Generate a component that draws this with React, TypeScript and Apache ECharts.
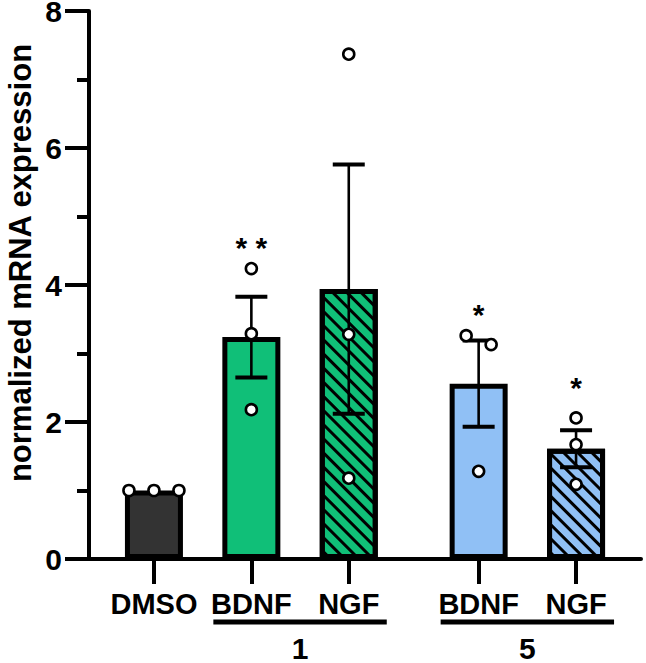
import React, { useEffect, useRef } from "react";
import * as echarts from "echarts";

// ---- data ----
const categories = ["DMSO", "BDNF", "NGF", "BDNF", "NGF"];
const groupLabels = ["", "1", "1", "5", "5"];
const means = [1.0, 3.24, 3.94, 2.56, 1.61];
const sems = [0, 0.59, 1.82, 0.63, 0.27];
const replicates = [
  [1.0, 1.0, 1.0],
  [4.24, 3.29, 2.18],
  [7.37, 3.28, 1.18],
  [3.26, 3.13, 1.28],
  [2.06, 1.67, 1.09],
];
const significance = ["", "* *", "", "*", "*"];
const significanceLevel = [null, 4.65, null, 3.67, 2.61];
const yTicks = { min: 0, max: 8, interval: 2 };
const yTitle = "normalized mRNA expression";

// ---- styles ----
const barColors = ["#333333", "#10bf78", "#10bf78", "#90c0f5", "#90c0f5"];
const barHatched = [false, false, true, false, true];
const FONT = "'Liberation Sans', Arial, sans-serif";

// layout: slot positions on a continuous x-axis (step 3, extra gap between compound groups)
const positions = categories.map((_, i) => {
  let extra = 0;
  for (let k = 1; k <= i; k++) if (groupLabels[k] !== groupLabels[k - 1] && groupLabels[k - 1] !== "") extra += 1;
  return 2 + 3 * i + extra;
});

export default function App() {
  const ref = useRef<HTMLDivElement>(null);
  useEffect(() => {
    const chart = echarts.init(ref.current!, null, { renderer: "svg" });

    const hatchDecal = {
      symbol: "rect",
      symbolSize: 1,
      color: "#000000",
      dashArrayX: [1, 0],
      dashArrayY: [2.6, 6.6],
      rotation: Math.PI / 4,
    };

    const barData = means.map((m, i) => ({
      value: [positions[i], m],
      itemStyle: {
        color: barColors[i],
        borderColor: "#000",
        borderWidth: 5,
        decal: barHatched[i] ? hatchDecal : undefined,
      },
    }));

    const errData = means.map((m, i) => [positions[i], m, sems[i]]);
    const ptData = means.map((m, i) => [positions[i], m, i]);
    const sigData = significance
      .map((s, i) => (s ? [positions[i], significanceLevel[i], i] : null))
      .filter((d) => d !== null);

    const groups: { label: string; start: number; end: number }[] = [];
    groupLabels.forEach((g, i) => {
      if (!g) return;
      const last = groups[groups.length - 1];
      if (last && last.label === g) last.end = positions[i];
      else groups.push({ label: g, start: positions[i], end: positions[i] });
    });
    const groupData = groups.map((g, i) => [g.start, 0, g.end, i]);

    const option: any = {
      animation: false,
      grid: { left: 89, right: 5, top: 11, bottom: 104, containLabel: false, outerBoundsMode: "none" },
      xAxis: {
        type: "value",
        min: 0,
        max: 17,
        splitLine: { show: false },
        axisLine: { onZero: false, lineStyle: { color: "#000", width: 4 } },
        axisTick: {
          customValues: positions,
          length: 25,
          lineStyle: { color: "#000", width: 4 },
        },
        axisLabel: {
          customValues: positions,
          margin: 30,
          color: "#000",
          fontFamily: FONT,
          fontWeight: "bold",
          fontSize: 29,
          formatter: (v: number) => {
            const idx = positions.indexOf(v);
            return idx >= 0 ? categories[idx] : "";
          },
        },
      },
      yAxis: {
        type: "value",
        min: yTicks.min,
        max: yTicks.max,
        interval: yTicks.interval,
        splitLine: { show: false },
        axisLine: { show: true, onZero: false, lineStyle: { color: "#000", width: 4 } },
        axisTick: { show: true, length: 24, lineStyle: { color: "#000", width: 4 } },
        minorTick: { show: true, splitNumber: 2, length: 12, lineStyle: { color: "#000", width: 4 } },
        axisLabel: {
          margin: 27,
          color: "#000",
          fontFamily: FONT,
          fontWeight: "bold",
          fontSize: 30,
          lineHeight: 16,
        },
      },
      graphic: [
        {
          type: "text",
          x: 20,
          y: 263,
          rotation: Math.PI / 2,
          style: {
            text: yTitle,
            fill: "#000",
            font: `bold 31px ${FONT}`,
            align: "center",
            verticalAlign: "middle",
          },
        },
      ],
      series: [
        {
          type: "bar",
          barWidth: 58,
          data: barData,
          z: 2,
        },
        {
          type: "custom",
          z: 3,
          clip: false,
          data: errData,
          renderItem: (params: any, api: any) => {
            const x = api.value(0);
            const m = api.value(1);
            const s = api.value(2);
            if (!s) return { type: "group", children: [] };
            const top = api.coord([x, m + s]);
            const bot = api.coord([x, m - s]);
            const half = 16;
            const st = { stroke: "#000", lineWidth: 2.6 };
            const cap = { stroke: "#000", lineWidth: 4 };
            return {
              type: "group",
              children: [
                { type: "line", shape: { x1: top[0], y1: top[1], x2: bot[0], y2: bot[1] }, style: st },
                { type: "line", shape: { x1: top[0] - half, y1: top[1], x2: top[0] + half, y2: top[1] }, style: cap },
                { type: "line", shape: { x1: bot[0] - half, y1: bot[1], x2: bot[0] + half, y2: bot[1] }, style: cap },
              ],
            };
          },
        },
        {
          type: "custom",
          z: 4,
          clip: false,
          data: ptData,
          renderItem: (params: any, api: any) => {
            const x = api.value(0);
            const idx = api.value(2);
            const vals = replicates[idx];
            const pts = vals.map((v) => ({ v, c: api.coord([x, v]) as number[], dx: 0 }));
            // simple dodge: cluster points that would overlap vertically, spread horizontally
            const sorted = [...pts].sort((a, b) => b.v - a.v);
            const clusters: (typeof pts)[] = [];
            sorted.forEach((p) => {
              const last = clusters[clusters.length - 1];
              if (last && Math.abs(last[last.length - 1].c[1] - p.c[1]) < 13) last.push(p);
              else clusters.push([p]);
            });
            const spacing = 25;
            clusters.forEach((cl) => {
              cl.forEach((p, k) => {
                p.dx = (k - (cl.length - 1) / 2) * spacing;
              });
            });
            return {
              type: "group",
              children: pts.map((p) => ({
                type: "circle",
                shape: { cx: p.c[0] + p.dx, cy: p.c[1], r: 5.5 },
                style: { fill: "#fff", stroke: "#000", lineWidth: 2.6 },
              })),
            };
          },
        },
        {
          type: "custom",
          z: 5,
          clip: false,
          data: sigData,
          renderItem: (params: any, api: any) => {
            const c = api.coord([api.value(0), api.value(1)]);
            const idx = api.value(2);
            return {
              type: "text",
              x: c[0],
              y: c[1] + 7,
              style: {
                text: significance[idx],
                fill: "#000",
                font: `bold 30px ${FONT}`,
                align: "center",
                verticalAlign: "middle",
              },
            };
          },
        },
        {
          type: "custom",
          z: 5,
          clip: false,
          data: groupData,
          renderItem: (params: any, api: any) => {
            const a = api.coord([api.value(0), 0]);
            const b = api.coord([api.value(2), 0]);
            const g = groups[api.value(3)];
            const y = a[1] + 63;
            return {
              type: "group",
              children: [
                {
                  type: "line",
                  shape: { x1: a[0] - 38, y1: y, x2: b[0] + 38, y2: y },
                  style: { stroke: "#000", lineWidth: 5 },
                },
                {
                  type: "text",
                  x: (a[0] + b[0]) / 2,
                  y: a[1] + 89,
                  style: {
                    text: g.label,
                    fill: "#000",
                    font: `bold 30px ${FONT}`,
                    lineHeight: 26,
                    align: "center",
                    verticalAlign: "middle",
                  },
                },
              ],
            };
          },
        },
      ],
    };
    chart.setOption(option);
    return () => chart.dispose();
  }, []);
  return (
    <div
      ref={ref}
      style={{ position: "absolute", left: 0, top: 0, width: 646, height: 663 }}
    />
  );
}
